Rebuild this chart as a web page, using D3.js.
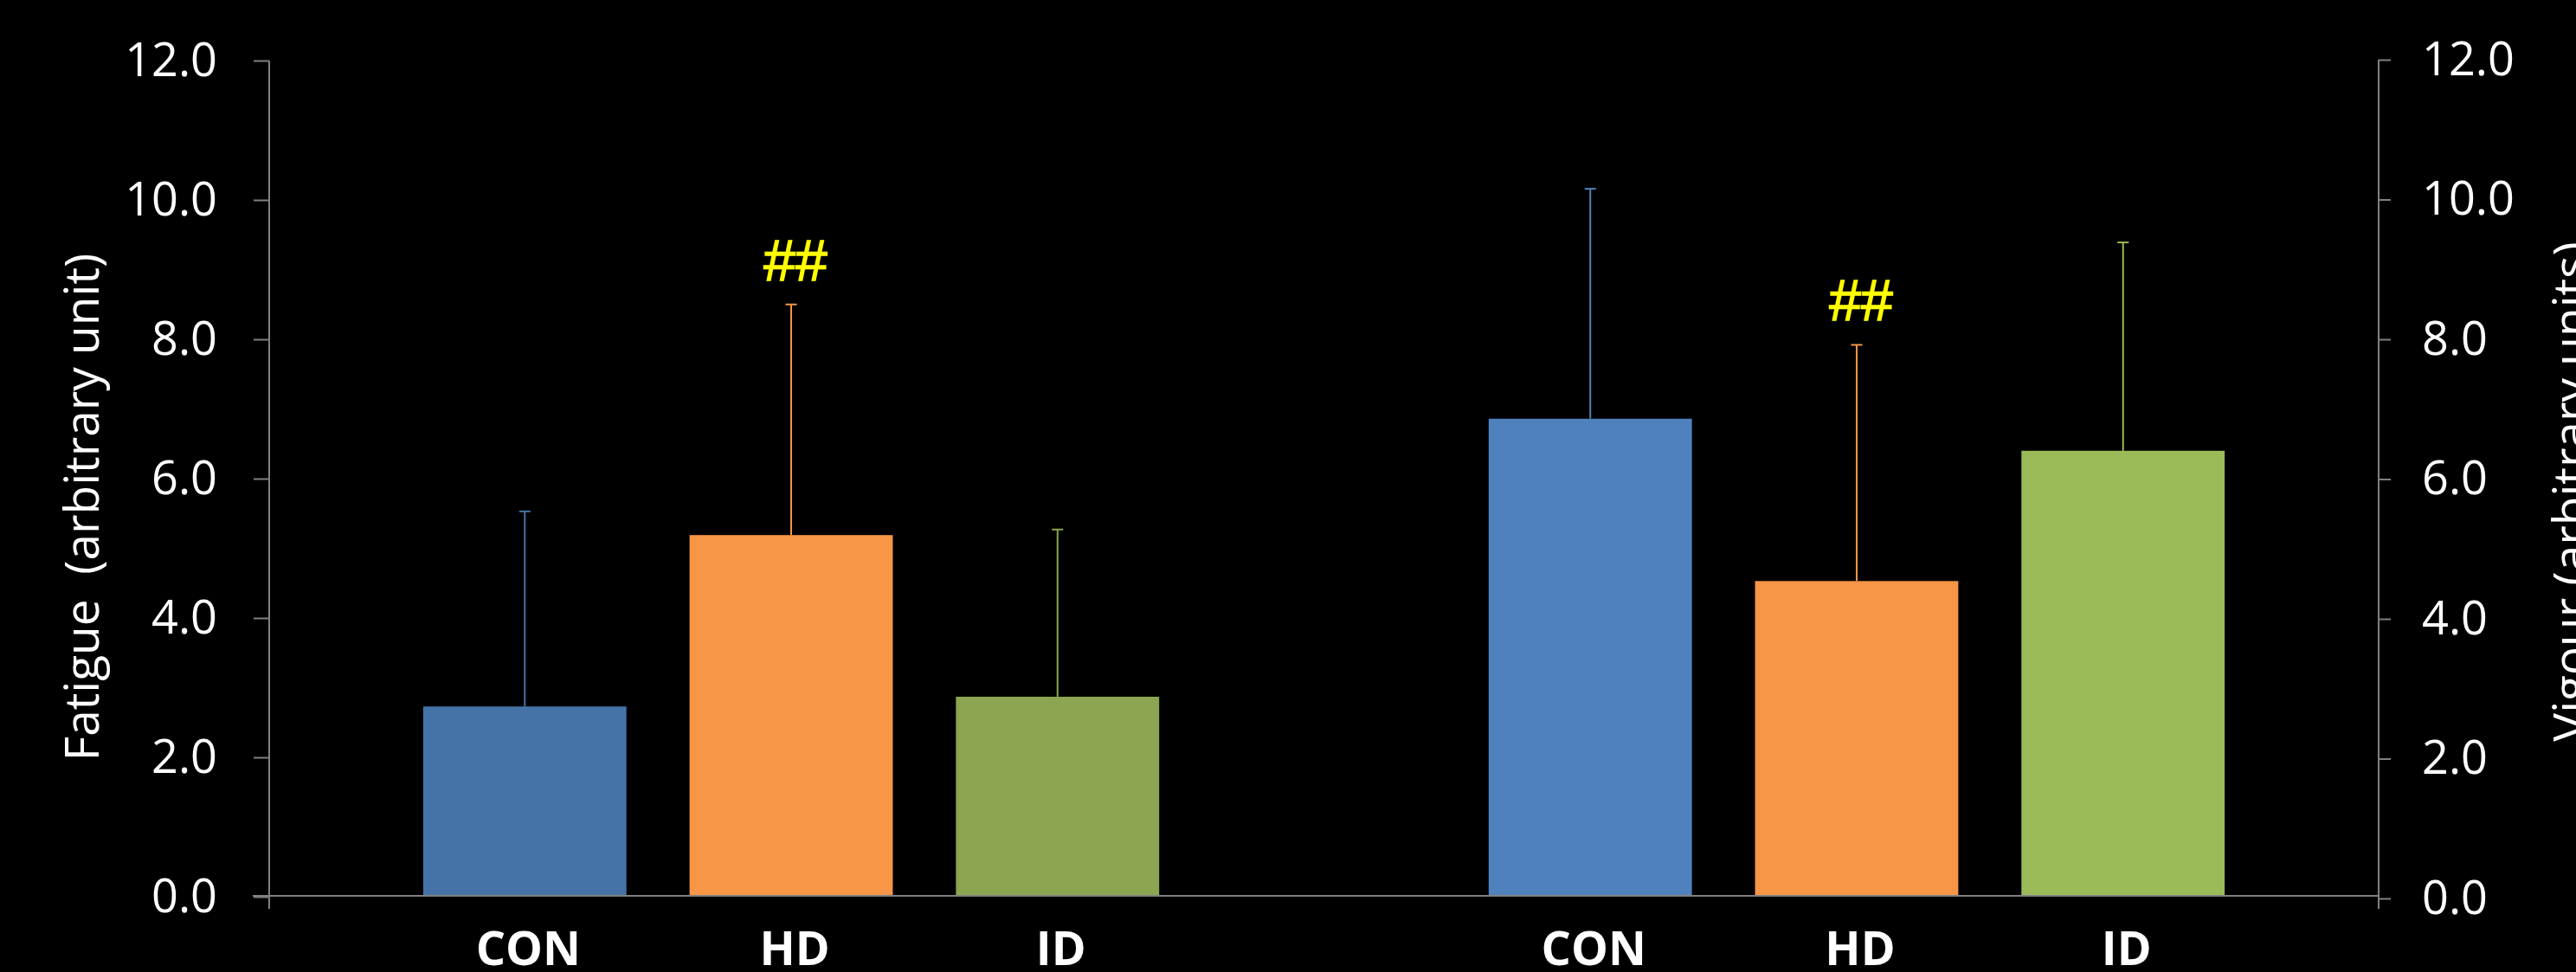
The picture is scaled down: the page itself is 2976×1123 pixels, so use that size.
<!DOCTYPE html>
<html>
<head>
<meta charset="utf-8">
<script src="https://cdn.jsdelivr.net/npm/d3@7"></script>
<style>
  body { margin: 0; background: #000; }
  svg { display: block; }
</style>
</head>
<body>
<script>
const WIDTH = 2976;
const HEIGHT = 1123;

const categories = ['CON', 'HD', 'ID'];
const fatigueMean = [2.73, 5.19, 2.87];
const fatigueSD = [2.80, 3.31, 2.40];
const vigourMean = [6.86, 4.53, 6.40];
const vigourSD = [3.30, 3.39, 2.99];
const fatigueMarks = ['', '##', ''];
const vigourMarks = ['', '##', ''];
const yTicks = [0, 2, 4, 6, 8, 10, 12];

const fatigueColors = ['#4673A7', '#F79646', '#8BA550'];
const vigourColors = ['#4F81BD', '#F79646', '#9BBB59'];

// one slot per bar, plus an empty slot between the two groups
const slots = [];
categories.forEach((c, i) => slots.push({key: 'F' + i, label: c, mean: fatigueMean[i], sd: fatigueSD[i], mark: fatigueMarks[i], color: fatigueColors[i]}));
slots.push({key: 'gap', label: ''});
categories.forEach((c, i) => slots.push({key: 'V' + i, label: c, mean: vigourMean[i], sd: vigourSD[i], mark: vigourMarks[i], color: vigourColors[i]}));
const bars = slots.filter(d => d.key !== 'gap');

const svg = d3.select('body')
              .append('svg')
                .attr('width', WIDTH)
                .attr('height', HEIGHT);

const x = d3.scaleBand()
            .domain(slots.map(d => d.key))
            .range([311, 2748])
            .paddingInner(0.237)
            .paddingOuter(0.578);

const y = d3.scaleLinear().domain([0, 12]).range([1036, 70]);
const yRight = d3.scaleLinear().domain([0, 12]).range([1038, 69]);

const axisColor = '#808080';
const tickFont = "'Open Sans', sans-serif";

// left axis
const left = svg.append('g')
    .attr('transform', 'translate(311,0)')
    .call(d3.axisLeft(y).tickValues(yTicks).tickSize(18).tickPadding(42).tickFormat(d3.format('.1f')));
left.select('.domain').remove();
left.append('line').attr('y1', 70).attr('y2', 1050).attr('stroke', axisColor).attr('stroke-width', 2);

// right axis
const right = svg.append('g')
    .attr('transform', 'translate(2748,0)')
    .call(d3.axisRight(yRight).tickValues(yTicks).tickSize(14).tickPadding(36).tickFormat(d3.format('.1f')));
right.select('.domain').remove();
right.append('line').attr('y1', 69).attr('y2', 1050).attr('stroke', axisColor).attr('stroke-width', 2);

svg.selectAll('.tick line').attr('stroke', axisColor).attr('stroke-width', 2);
svg.selectAll('.tick text')
    .attr('fill', '#fff')
    .style('font-family', tickFont)
    .style('font-size', '54px');

// bars
svg.append('g').selectAll('rect')
    .data(bars)
    .enter()
      .append('rect')
        .attr('x', d => x(d.key))
        .attr('y', d => y(d.mean))
        .attr('width', x.bandwidth())
        .attr('height', d => y(0) - y(d.mean))
        .attr('fill', d => d.color);

// upper error bars
const err = svg.append('g').selectAll('g')
    .data(bars)
    .enter()
      .append('g')
        .attr('stroke', d => d.color)
        .attr('stroke-width', 2);
err.append('line')
    .attr('x1', d => x(d.key) + x.bandwidth() / 2)
    .attr('x2', d => x(d.key) + x.bandwidth() / 2)
    .attr('y1', d => y(d.mean))
    .attr('y2', d => y(d.mean + d.sd));
err.append('line')
    .attr('x1', d => x(d.key) + x.bandwidth() / 2 - 6.5)
    .attr('x2', d => x(d.key) + x.bandwidth() / 2 + 6.5)
    .attr('y1', d => y(d.mean + d.sd))
    .attr('y2', d => y(d.mean + d.sd));

// significance marks
svg.append('g').selectAll('text')
    .data(bars.filter(d => d.mark))
    .enter()
      .append('text')
        .attr('x', d => x(d.key) + x.bandwidth() / 2 + 5)
        .attr('y', d => y(d.mean + d.sd) - 28)
        .attr('text-anchor', 'middle')
        .attr('fill', '#FFFF00')
        .attr('stroke', '#FFFF00')
        .attr('stroke-width', 1.5)
        .style('font-family', "'Liberation Sans', sans-serif")
        .style('font-size', '66px')
        .text(d => d.mark);

// x axis line and category labels
const bottom = svg.append('g')
    .attr('transform', 'translate(0,1035)')
    .call(d3.axisBottom(x).tickSize(0).tickFormat(k => slots.find(s => s.key === k).label));
bottom.select('.domain').remove();
bottom.append('line').attr('x1', 292).attr('x2', 2748).attr('stroke', axisColor).attr('stroke-width', 2);
bottom.selectAll('.tick text')
    .attr('y', 80)
    .attr('dy', null)
    .attr('dx', 4)
    .attr('fill', '#fff')
    .style('font-family', tickFont)
    .style('font-weight', 'bold')
    .style('font-size', '54px');

// axis titles
svg.append('text')
    .attr('transform', 'translate(114,586) rotate(-90)')
    .attr('text-anchor', 'middle')
    .attr('fill', '#fff')
    .style('font-family', tickFont)
    .style('font-size', '55px')
    .style('white-space', 'pre')
    .text('Fatigue  (arbitrary unit)');

svg.append('text')
    .attr('transform', 'translate(2989,568) rotate(-90)')
    .attr('text-anchor', 'middle')
    .attr('fill', '#fff')
    .style('font-family', tickFont)
    .style('font-size', '55px')
    .text('Vigour (arbitrary units)');
</script>
</body>
</html>
